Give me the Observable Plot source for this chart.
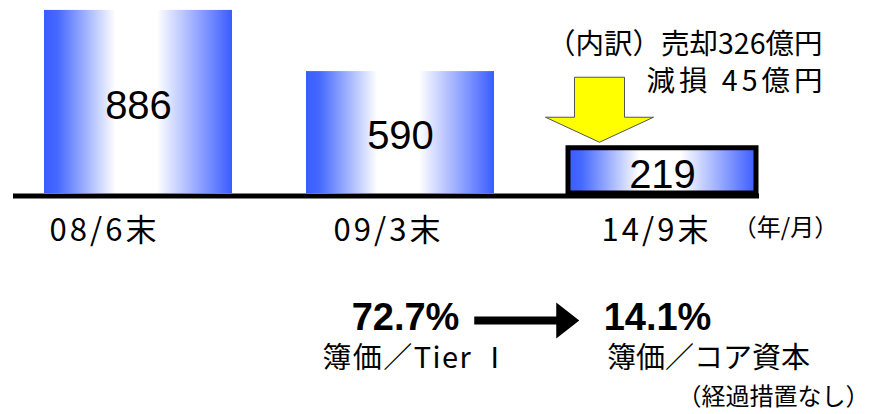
<!DOCTYPE html>
<html><head><meta charset="utf-8">
<script src="https://cdn.jsdelivr.net/npm/d3@7"></script>
<script src="https://cdn.jsdelivr.net/npm/@observablehq/plot@0.6"></script>
<style>
html,body{margin:0;padding:0;background:#fff}
svg{display:block}
</style>
</head><body><div id="chart"></div>
<script>
// ---- data ----
const categories = ["08/6末", "09/3末", "14/9末"];
const values = [886, 590, 219];
const unitNote = "（年/月）";
const breakdownLines = ["（内訳）売却326億円", "減損 45億円"];
const ratioValues = ["72.7%", "14.1%"];
const ratioBases = ["簿価／Tier Ⅰ", "簿価／コア資本"];
const ratioNote = "（経過措置なし）";

const bars = categories.map((c, i) => ({cat: c, value: values[i]}));
const last = categories[categories.length - 1];

const LATIN = "'Liberation Sans', 'Noto Sans CJK JP', sans-serif";
const CJK = "'Noto Sans CJK JP', 'Liberation Sans', sans-serif";

// block arrow pointing down (yellow)
const downArrow = {
  draw(ctx, size) {
    const s = Math.sqrt(size / Math.PI) / 54;
    const p = [[-25,-32.5],[25,-32.5],[25,7.5],[54,7.5],[0,32.5],[-54,7.5],[-25,7.5]];
    ctx.moveTo(p[0][0]*s, p[0][1]*s);
    for (const [x, y] of p.slice(1)) ctx.lineTo(x*s, y*s);
    ctx.closePath();
  }
};
// thick arrow pointing right (black)
const rightArrow = {
  draw(ctx, size) {
    const s = Math.sqrt(size / Math.PI) / 52.5;
    const p = [[-52.5,-4],[29.5,-4],[29.5,-18],[52.5,0],[29.5,18],[29.5,4],[-52.5,4]];
    ctx.moveTo(p[0][0]*s, p[0][1]*s);
    for (const [x, y] of p.slice(1)) ctx.lineTo(x*s, y*s);
    ctx.closePath();
  }
};

const T = (data, opts) => Plot.text(data, {text: d => d, lineAnchor: "middle", fill: "#000", ...opts});

const chart = Plot.plot({
  width: 869,
  height: 414,
  marginTop: 0,
  marginBottom: 221,
  marginLeft: 13,
  marginRight: 110,
  style: {background: "#fff"},
  x: {domain: categories, paddingInner: 0.281, paddingOuter: 0.06, align: 0.92, axis: null},
  y: {domain: [0, 934], axis: null},
  marks: [
    Plot.barY(bars, {x: "cat", y: "value", fill: "url(#barGrad)", filter: d => d.cat !== last}),
    Plot.barY(bars, {x: "cat", y: "value", fill: "url(#barGrad)", stroke: "#000", strokeWidth: 5, filter: d => d.cat === last}),
    Plot.ruleY([0], {stroke: "#000", strokeWidth: 5, dy: 2.5}),
    Plot.text(bars, {x: "cat", y: d => d.value / 2, text: d => String(d.value), fontSize: 40, fontFamily: LATIN, fill: "#000", dy: 4}),
    // category labels
    ...categories.map((c, i) => T([c], {x: d => d, frameAnchor: "bottom", dy: 38,
      dx: [-34, -12, -6][i], fontSize: 31, fontFamily: CJK})),
    T([unitNote], {x: () => last, frameAnchor: "bottom", dy: 35, dx: 123, fontSize: 24, fontFamily: CJK}),
    // breakdown annotation
    T([breakdownLines[0]], {x: () => last, frameAnchor: "top", dy: 44, dx: 160, textAnchor: "end", fontSize: 28.5, fontFamily: CJK}),
    T([breakdownLines[1]], {x: () => last, frameAnchor: "top", dy: 81, dx: 164, textAnchor: "end", fontSize: 28.5, fontFamily: CJK}),
    Plot.dot([{cat: last, value: values[values.length - 1]}], {x: "cat", y: "value", symbol: downArrow, r: 54, dx: -63, dy: -38.5,
      fill: "#ffff00", stroke: "#555", strokeWidth: 1}),
    // ratio section
    T([ratioValues[0]], {x: () => categories[1], frameAnchor: "bottom", dy: 124, dx: 5, fontSize: 38, fontWeight: "bold", fontFamily: LATIN}),
    T([ratioValues[1]], {x: () => last, frameAnchor: "bottom", dy: 124, dx: -5, fontSize: 38, fontWeight: "bold", fontFamily: LATIN}),
    Plot.dot([categories[1]], {x: d => d, symbol: rightArrow, r: 52.5, frameAnchor: "bottom", dy: 127, dx: 126.25, fill: "#000", stroke: "none"}),
    T([ratioBases[0]], {x: () => categories[1], frameAnchor: "bottom", dy: 165, dx: 16, fontSize: 29, fontFamily: CJK}),
    T([ratioBases[1]], {x: () => last, frameAnchor: "bottom", dy: 165, dx: 46, fontSize: 29, fontFamily: CJK}),
    T([ratioNote], {x: () => last, frameAnchor: "bottom", dy: 204, dx: 111, fontSize: 24, fontFamily: CJK})
  ]
});

// horizontal blue-white-blue gradient for the bars
const defs = d3.select(chart).insert("defs", ":first-child");
const grad = defs.append("linearGradient").attr("id", "barGrad")
  .attr("x1", "0").attr("x2", "1").attr("y1", "0").attr("y2", "0");
[[0, "#3a5cff"], [0.07, "#4468ff"], [0.38, "#ffffff"], [0.6, "#ffffff"], [1, "#3a5cff"]]
  .forEach(([o, c]) => grad.append("stop").attr("offset", o).attr("stop-color", c));

// character spacing tweaks
const spacing = (txt, px) => d3.select(chart).selectAll("text")
  .filter(function() { return this.textContent === txt; }).style("letter-spacing", px);
categories.forEach(c => spacing(c, "3px"));
spacing(ratioBases[0], "1.5px");
spacing(breakdownLines[1], "4px");

document.getElementById("chart").appendChild(chart);
</script>
</body></html>
